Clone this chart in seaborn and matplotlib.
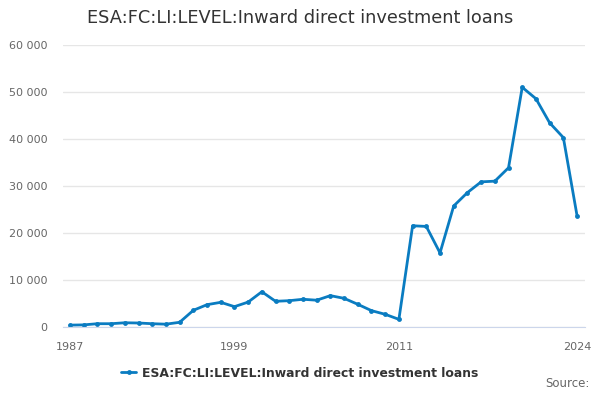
import pandas as pd
import numpy as np
import matplotlib.pyplot as plt
import seaborn as sns

sns.set_style("white")
plt.rcParams['font.family'] = ['DejaVu Sans']

# Dados
anos = list(range(1987, 2025))
valores = [400, 450, 700, 700, 900, 850, 700, 600, 1000, 3550,
           4750, 5250, 4330, 5300, 7500, 5470, 5600, 5900, 5700, 6670,
           6100, 4830, 3480, 2700, 1630, 21540, 21400, 15760, 25750, 28600,
           30880, 31030, 33880, 51000, 48570, 43440, 40300, 23680]
serie = 'ESA:FC:LI:LEVEL:Inward direct investment loans'
ticks_rotulo = [1987, 1999, 2011, 2024]
ticks_marca = [1987, 1990, 1993, 1996, 1999, 2002, 2005, 2008, 2011, 2014, 2017, 2020, 2024]

df = pd.DataFrame({'Ano': anos, 'Valor': valores})
cor = '#0a7cc1'

fig = plt.figure(figsize=(6, 4), dpi=100)
ax = fig.add_axes([0.105, 0.1825, 0.87, 0.705])

sns.lineplot(data=df, x='Ano', y='Valor', ax=ax, color=cor, linewidth=2,
             marker='o', markersize=3.5, markeredgewidth=0, label=serie)

ax.set_xlim(1986.49, 2024.58)
ax.set_ylim(0, 60000)
ax.set_yticks(range(0, 60001, 10000))
ax.set_yticklabels(['0' if v == 0 else f'{v:,}'.replace(',', ' ') for v in range(0, 60001, 10000)])
ax.set_xticks(ticks_marca)
ax.set_xticklabels([str(a) if a in ticks_rotulo else '' for a in ticks_marca])
ax.grid(axis='y', color='#e6e6e6', linewidth=1)
ax.set_axisbelow(True)
for s in ['top', 'right', 'left']:
    ax.spines[s].set_visible(False)
ax.spines['bottom'].set_color('#ccd6eb')
ax.tick_params(axis='x', length=10, color='#ccd6eb', labelsize=8, labelcolor='#666666', pad=1)
ax.tick_params(axis='y', length=0, labelsize=8, labelcolor='#666666', pad=11)
ax.set_xlabel('')
ax.set_ylabel('')

fig.text(0.5, 0.955, serie, ha='center', va='center', fontsize=12.8, color='#333333')
ax.get_legend().remove()
handles, labels = ax.get_legend_handles_labels()
fig.legend(handles, labels, loc='center', bbox_to_anchor=(0.5, 0.067), frameon=False,
           prop={'weight': 'bold', 'size': 8.9}, labelcolor='#333333',
           handlelength=1.2, handletextpad=0.5)
fig.text(0.983, 0.025, 'Source:', ha='right', va='bottom', fontsize=8.5, color='#666666')

plt.savefig('out.png', dpi=100)
